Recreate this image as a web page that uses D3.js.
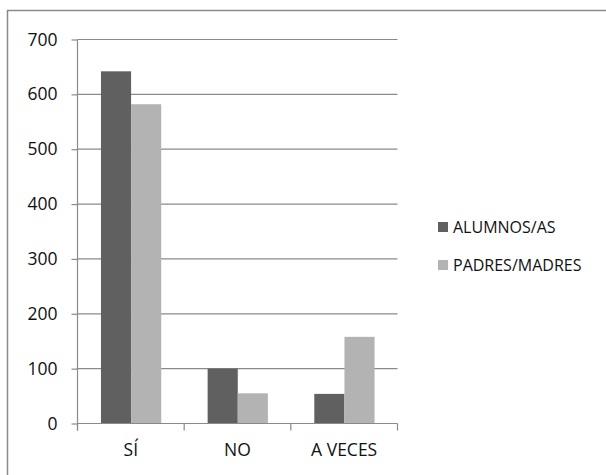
<!DOCTYPE html>
<html>
<head>
<meta charset="utf-8">
<script src="https://cdn.jsdelivr.net/npm/d3@7"></script>
<style>
  html, body { margin: 0; padding: 0; background: #fff; }
  svg { display: block; }
  text { font-family: "Open Sans", "Noto Sans", sans-serif; fill: #111; }
</style>
</head>
<body>
<svg id="chart" width="606" height="475"></svg>
<script>
const categories = ["SÍ", "NO", "A VECES"];
const seriesNames = ["ALUMNOS/AS", "PADRES/MADRES"];
const alumnos = [642, 100, 54];
const padres = [582, 55, 158];
const yTicks = [0, 100, 200, 300, 400, 500, 600, 700];

const seriesValues = [alumnos, padres];
const colors = ["#606060", "#b3b3b3"];
const gridColor = "#8a8a8a";

const svg = d3.select("#chart");

// outer frame (right and bottom edges fall outside the picture)
svg.append("rect")
  .attr("x", 7.5).attr("y", 10.5)
  .attr("width", 620).attr("height", 500)
  .attr("fill", "none").attr("stroke", gridColor).attr("stroke-width", 1.5);

const pLeft = 77.5, pRight = 397.5, pTop = 39.5, pBottom = 423.5;

const x = d3.scaleBand().domain(categories).range([pLeft, pRight]).paddingInner(0).paddingOuter(0);
const xs = d3.scaleBand().domain(seriesNames).range([x.bandwidth() * 0.22, x.bandwidth() * 0.785]).padding(0);
const y = d3.scaleLinear().domain([0, 700]).range([pBottom, pTop]);

// gridlines
svg.append("g").selectAll("line").data(yTicks.filter(d => d > 0)).join("line")
  .attr("x1", pLeft).attr("x2", pRight)
  .attr("y1", d => y(d)).attr("y2", d => y(d))
  .attr("stroke", gridColor).attr("stroke-width", 1.2);

// bars
const groups = svg.append("g").selectAll("g").data(categories).join("g")
  .attr("transform", d => `translate(${x(d)},0)`);
groups.selectAll("rect")
  .data((c, i) => seriesNames.map((s, j) => ({ s, v: seriesValues[j][i], j })))
  .join("rect")
  .attr("x", d => xs(d.s))
  .attr("width", xs.bandwidth())
  .attr("y", d => y(d.v))
  .attr("height", d => pBottom - y(d.v))
  .attr("fill", d => colors[d.j]);

// y axis
const yAxis = d3.axisLeft(y).tickValues(yTicks).tickSize(6).tickPadding(14).tickFormat(d3.format("d"));
const gy = svg.append("g").attr("transform", `translate(${pLeft},0)`).call(yAxis);
gy.select(".domain").attr("d", `M0,${pTop}V${pBottom + 7}`).attr("stroke", gridColor).attr("stroke-width", 1.2);
gy.selectAll(".tick line").attr("stroke", gridColor).attr("stroke-width", 1.2);
gy.selectAll(".tick text").attr("font-size", "17.5px").attr("font-family", "'Open Sans', sans-serif").attr("fill", "#111");

// x axis
const xAxis = d3.axisBottom(x).tickSize(0).tickPadding(20);
const gx = svg.append("g").attr("transform", `translate(0,${pBottom})`).call(xAxis);
gx.select(".domain").attr("stroke", gridColor).attr("stroke-width", 1.2).attr("d", `M${pLeft},0H${pRight}`);
gx.selectAll(".tick text").attr("font-size", "17.5px").attr("font-family", "'Open Sans', sans-serif").attr("fill", "#111");
// category boundary ticks
const bounds = categories.map(c => x(c)).concat([x(categories[categories.length - 1]) + x.bandwidth()]);
gx.append("g").selectAll("line").data(bounds).join("line")
  .attr("x1", d => d).attr("x2", d => d).attr("y1", 0).attr("y2", 7)
  .attr("stroke", gridColor).attr("stroke-width", 1.2);

// legend
const legend = svg.append("g").attr("transform", "translate(438,222)");
const li = legend.selectAll("g").data(seriesNames).join("g")
  .attr("transform", (d, i) => `translate(0,${i * 38})`);
li.append("rect").attr("width", 10).attr("height", 10).attr("fill", (d, i) => colors[i]);
li.append("text").attr("x", 15).attr("y", 5).attr("dy", "0.36em")
  .attr("font-size", "16px").text(d => d);
</script>
</body>
</html>
